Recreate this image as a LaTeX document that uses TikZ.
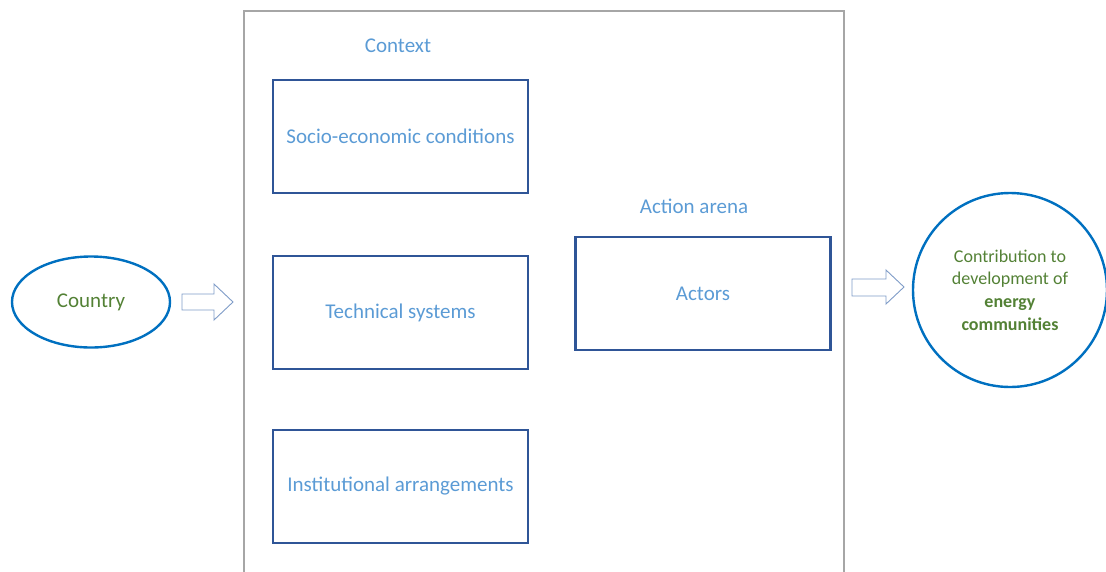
\documentclass[tikz,border=0pt]{standalone}
\usepackage{fontspec}
\setmainfont{Carlito}
\usetikzlibrary{shapes.geometric}
\definecolor{boxblue}{HTML}{2F5597}
\definecolor{txtblue}{HTML}{5B9BD5}
\definecolor{ringblue}{HTML}{0070C0}
\definecolor{leafgreen}{HTML}{538135}
\definecolor{framegray}{HTML}{A6A6A6}
\definecolor{arrowblue}{HTML}{7F9CC8}
\begin{document}
\begin{tikzpicture}[x=1pt,y=-1pt,
  every node/.style={font=\fontsize{21}{25}\selectfont},
  factor/.style={draw=boxblue,line width=2.3pt,minimum width=255pt,minimum height=113pt,text=txtblue},
  heading/.style={text=txtblue},
  ring/.style={draw=ringblue,line width=2.4pt,text=leafgreen},
  blockarrow/.style={draw=arrowblue,line width=0.9pt,fill=white,line join=miter}]
\clip (0,0) rectangle (1106,571);
\useasboundingbox (0,0) rectangle (1106,571);
% context frame, open at the bottom
\draw[framegray,line width=1.5pt] (244,580) -- (244,11) -- (844,11) -- (844,580);
\node[heading] (ctx) at (398,46) {Context};
\node[factor] (soc) at (400.5,136.5) {Socio-economic conditions};
\node[factor] (tech) at (400.5,312.5) {Technical systems};
\node[factor] (inst) at (400.5,486.5) {Institutional arrangements};
\node[heading] (arena) at (694,206) {Action arena};
\node[factor] (act) at (703,293.5) {Actors};
% country and outcome
\node[ring,ellipse,minimum width=158pt,minimum height=91pt] (country) at (91,302) {Country};
\node[ring,circle,minimum size=194pt,inner sep=0pt,align=center,font=\fontsize{18}{22.7}\selectfont] (out) at (1010,290)
  {Contribution to\\development of\\\textbf{energy}\\\textbf{communities}};
% block arrows
\draw[blockarrow] (182,294) -- (214,294) -- (214,284) -- (233,302) -- (214,320)
  -- (214,310) -- (182,310) -- cycle;
\draw[blockarrow] (852,279) -- (886,279) -- (886,270) -- (904,287) -- (886,304)
  -- (886,296) -- (852,296) -- cycle;
\end{tikzpicture}
\end{document}
